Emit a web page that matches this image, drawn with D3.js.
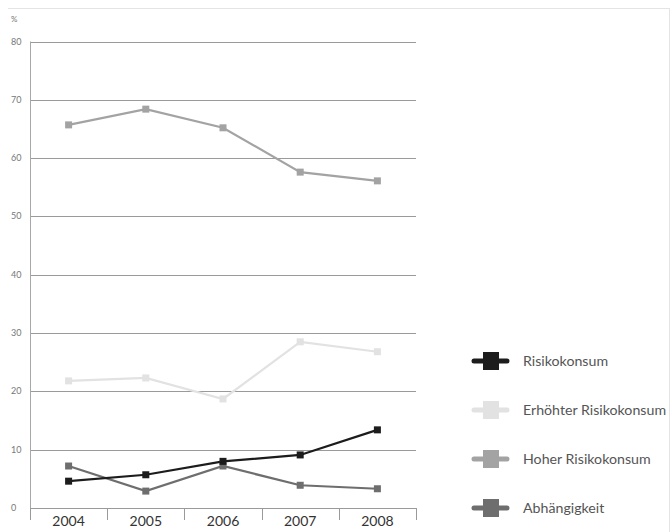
<!DOCTYPE html>
<html>
<head>
<meta charset="utf-8">
<script src="https://cdn.jsdelivr.net/npm/d3@7"></script>
<style>
  body { margin: 0; background: #fff; }
  svg { display: block; font-family: Lato, "Open Sans", sans-serif; }
</style>
</head>
<body>
<div id="chart"></div>
<script>
// data
var years = ["2004", "2005", "2006", "2007", "2008"];
var yTicks = [0, 10, 20, 30, 40, 50, 60, 70, 80];
var risiko = [4.6, 5.7, 8.0, 9.1, 13.4];
var erhoeht = [21.8, 22.3, 18.7, 28.5, 26.8];
var hoher = [65.7, 68.4, 65.2, 57.6, 56.1];
var abh = [7.2, 2.9, 7.2, 3.9, 3.3];
var seriesNames = ["Risikokonsum", "Erhöhter Risikokonsum", "Hoher Risikokonsum", "Abhängigkeit"];

var series = [
  {name: seriesNames[0], values: risiko, color: "#1c1c1c"},
  {name: seriesNames[1], values: erhoeht, color: "#e2e2e2"},
  {name: seriesNames[2], values: hoher, color: "#a3a3a3"},
  {name: seriesNames[3], values: abh, color: "#6e6e6e"}
];

var width = 671, height = 532;
var margin = {top: 41.5, left: 30, right: 255, bottom: 24};

var svg = d3.select("#chart").append("svg")
  .attr("width", width).attr("height", height);

// faint frame top and right
svg.append("line").attr("x1", 8).attr("x2", 669).attr("y1", 8.5).attr("y2", 8.5)
  .attr("stroke", "#e4e4e4").attr("stroke-width", 1);
svg.append("line").attr("x1", 669.5).attr("x2", 669.5).attr("y1", 8).attr("y2", height)
  .attr("stroke", "#e4e4e4").attr("stroke-width", 1);

var x = d3.scaleBand().domain(years).range([margin.left, 416]);
var y = d3.scaleLinear().domain([0, 80]).range([508, margin.top]);

// gridlines
svg.append("g").selectAll("line").data(yTicks.slice(1)).enter().append("line")
  .attr("x1", margin.left).attr("x2", 416)
  .attr("y1", function(d){ return Math.round(y(d)) + 0.5; })
  .attr("y2", function(d){ return Math.round(y(d)) + 0.5; })
  .attr("stroke", "#9a9a9a").attr("stroke-width", 1);

// y axis line
svg.append("line").attr("x1", margin.left + 0.5).attr("x2", margin.left + 0.5)
  .attr("y1", y(80)).attr("y2", 520).attr("stroke", "#a8a8a8");

// y tick labels
svg.append("g").selectAll("text").data(yTicks).enter().append("text")
  .attr("x", 11).attr("y", function(d){ return y(d) + 3; })
  .attr("font-size", 9).attr("fill", "#777")
  .text(function(d){ return d; });

svg.append("text").attr("x", 11).attr("y", 22).attr("font-size", 8).attr("fill", "#777").text("%");

// x axis
var xaxis = d3.axisBottom(x).tickSize(0).tickPadding(8);
var gx = svg.append("g").attr("transform", "translate(0,508)").call(xaxis);
gx.select(".domain").attr("stroke", "#9a9a9a").attr("d", "M" + margin.left + ",0.5H416");
gx.selectAll("text").attr("font-size", 14).attr("fill", "#333")
  .attr("font-family", "Lato, \"Open Sans\", sans-serif");

// band separator ticks
var seps = years.map(function(d){ return x(d); }).concat([x.range()[1]]);
svg.append("g").selectAll("line").data(seps).enter().append("line")
  .attr("x1", function(d){ return Math.round(d) + 0.5; })
  .attr("x2", function(d){ return Math.round(d) + 0.5; })
  .attr("y1", 508).attr("y2", 520)
  .attr("stroke", "#9a9a9a");

// lines
var line = d3.line()
  .x(function(d, i){ return x(years[i]) + x.bandwidth() / 2; })
  .y(function(d){ return y(d); });

var drawOrder = [series[1], series[2], series[3], series[0]];
drawOrder.forEach(function(s) {
  svg.append("path").datum(s.values)
    .attr("fill", "none").attr("stroke", s.color).attr("stroke-width", 2.2)
    .attr("d", line);
  svg.append("g").selectAll("rect").data(s.values).enter().append("rect")
    .attr("x", function(d, i){ return x(years[i]) + x.bandwidth() / 2 - 3.5; })
    .attr("y", function(d){ return y(d) - 3.5; })
    .attr("width", 7).attr("height", 7)
    .attr("fill", s.color);
});

// legend
var legend = svg.append("g").selectAll("g").data(series).enter().append("g")
  .attr("transform", function(d, i){ return "translate(0," + (361 + i * 49) + ")"; });
legend.append("line").attr("x1", 474).attr("x2", 507).attr("y1", 0).attr("y2", 0)
  .attr("stroke", function(d){ return d.color; }).attr("stroke-width", 5)
  .attr("stroke-linecap", "round");
legend.append("rect").attr("x", 483).attr("y", -9).attr("width", 16).attr("height", 18)
  .attr("fill", function(d){ return d.color; });
legend.append("text").attr("x", 523).attr("y", 5).attr("font-size", 14.2).attr("fill", "#555")
  .text(function(d){ return d.name; });
</script>
</body>
</html>
